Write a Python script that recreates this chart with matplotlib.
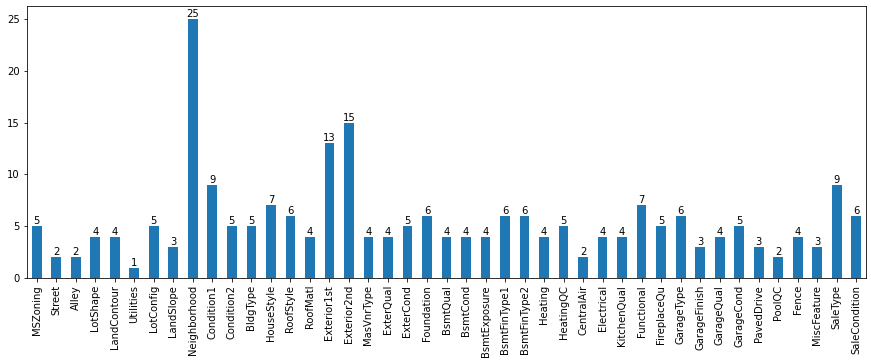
import matplotlib
matplotlib.use("Agg")
import matplotlib.pyplot as plt
import pandas as pd

# Number of unique values per categorical feature
features = [
    "MSZoning", "Street", "Alley", "LotShape", "LandContour", "Utilities",
    "LotConfig", "LandSlope", "Neighborhood", "Condition1", "Condition2",
    "BldgType", "HouseStyle", "RoofStyle", "RoofMatl", "Exterior1st",
    "Exterior2nd", "MasVnrType", "ExterQual", "ExterCond", "Foundation",
    "BsmtQual", "BsmtCond", "BsmtExposure", "BsmtFinType1", "BsmtFinType2",
    "Heating", "HeatingQC", "CentralAir", "Electrical", "KitchenQual",
    "Functional", "FireplaceQu", "GarageType", "GarageFinish", "GarageQual",
    "GarageCond", "PavedDrive", "PoolQC", "Fence", "MiscFeature",
    "SaleType", "SaleCondition",
]
n_unique = [
    5, 2, 2, 4, 4, 1, 5, 3, 25, 9, 5,
    5, 7, 6, 4, 13, 15, 4, 4, 5, 6,
    4, 4, 4, 6, 6, 4, 5, 2, 4, 4,
    7, 5, 6, 3, 4, 5, 3, 2, 4, 3,
    9, 6,
]

counts = pd.Series(n_unique, index=features)

fig, ax = plt.subplots(figsize=(871 / 72, 364 / 72), dpi=72)
counts.plot(kind="bar", ax=ax, color="#1f77b4")
ax.bar_label(ax.containers[0], fontsize=10)
ax.tick_params(labelsize=10)

plt.subplots_adjust(left=27 / 871, right=866 / 871, top=1 - 6 / 364, bottom=1 - 278 / 364)
plt.savefig("out.png", dpi=72)
